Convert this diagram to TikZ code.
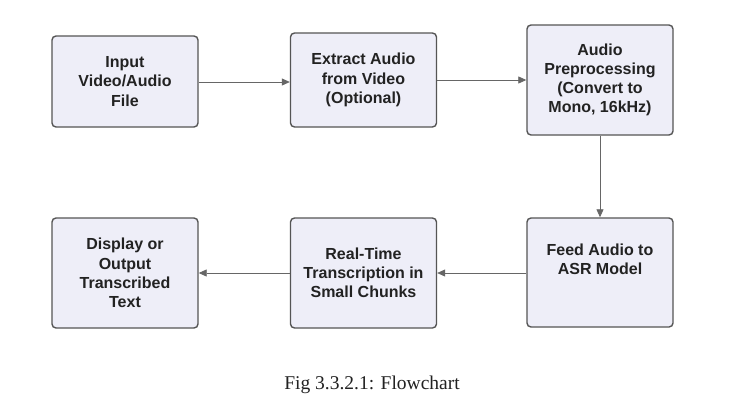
\documentclass[tikz,border=0pt]{standalone}
\usepackage{fontspec}
\setmainfont{Liberation Serif}
\setsansfont{Liberation Sans}
\usetikzlibrary{arrows.meta,positioning}
\definecolor{boxfill}{HTML}{EEEEF8}
\definecolor{boxline}{HTML}{555555}
\definecolor{arrowc}{HTML}{666666}
\definecolor{txt}{HTML}{222222}
\begin{document}
\begin{tikzpicture}[x=1pt,y=-1pt,
  flowbox/.style={draw=boxline,fill=boxfill,line width=1.4pt,rounded corners=4pt,
    minimum width=146pt,align=center,inner sep=2pt,
    font=\sffamily\bfseries\fontsize{16}{19.2}\selectfont,text=txt},
  flowarrow/.style={draw=arrowc,line width=0.8pt,-{Triangle[length=8pt,width=7pt]}}]
\useasboundingbox (0,0) rectangle (733,407);
\fill[white] (0,0) rectangle (733,407);
\node[flowbox,minimum height=91pt] (input) at (125,81.5) {Input\\Video/Audio\\File};
\node[flowbox,minimum height=94pt] (extract) at (363.5,80) {Extract Audio\\from Video\\(Optional)};
\node[flowbox,minimum height=110pt] (pre) at (600,80) {Audio\\Preprocessing\\(Convert to\\Mono, 16kHz)};
\node[flowbox,minimum height=109pt,text depth=27pt] (feed) at (600,272.5) {Feed Audio to\\ASR Model};
\node[flowbox,minimum height=110pt] (rt) at (363.5,273) {Real-Time\\Transcription in\\Small Chunks};
\node[flowbox,minimum height=110pt] (disp) at (125,273) {Display or\\Output\\Transcribed\\Text};
\draw[flowarrow] (input.east |- 0,82) -- (extract.west |- 0,82);
\draw[flowarrow] (extract.east |- 0,80) -- (pre.west |- 0,80);
\draw[flowarrow] (pre) -- (feed);
\draw[flowarrow] (feed.west |- 0,273) -- (rt.east |- 0,273);
\draw[flowarrow] (rt.west |- 0,273) -- (disp.east |- 0,273);
\node[font=\fontsize{19.5}{22}\selectfont,text=txt] (cap) at (372,385) {Fig 3.3.2.1: Flowchart};
\end{tikzpicture}
\end{document}
